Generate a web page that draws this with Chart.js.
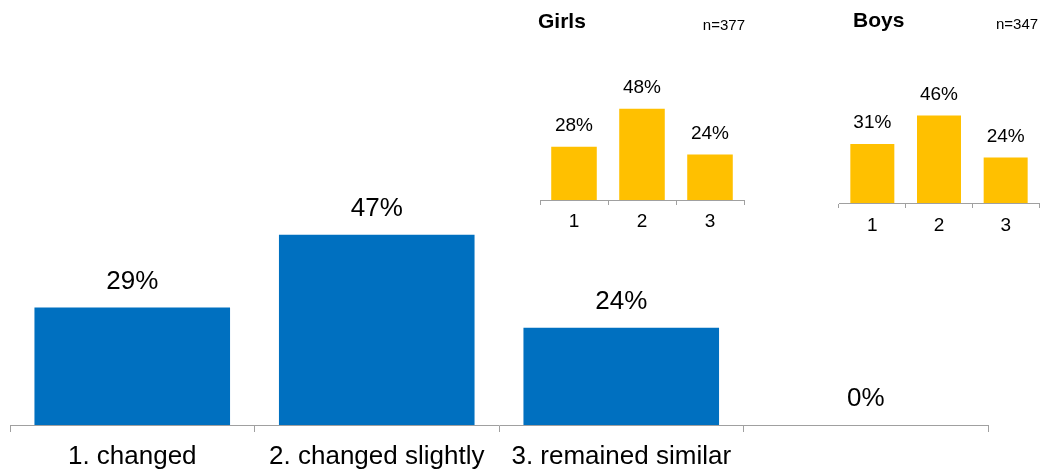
<!DOCTYPE html>
<html>
<head>
<meta charset="utf-8">
<script src="https://cdn.jsdelivr.net/npm/chart.js@4/dist/chart.umd.min.js"></script>
<style>
  html, body { margin: 0; padding: 0; background: #fff; }
  #wrap { position: relative; width: 1041px; height: 471px; overflow: hidden; }
  canvas { position: absolute; }
</style>
</head>
<body>
<div id="wrap">
  <canvas id="main" width="1041" height="471" style="left:0;top:0"></canvas>
  <canvas id="girls" width="240" height="250" style="left:520px;top:0"></canvas>
  <canvas id="boys" width="221" height="250" style="left:820px;top:0"></canvas>
</div>
<script>
// Overall answers
const mainCategories = ['1. changed', '2. changed slightly', '3. remained similar', ''];
const mainValues = [29, 47, 24, 0];

// Split by gender
const genderCategories = ['1', '2', '3'];
const girlsValues = [28, 48, 24];
const boysValues = [31, 46, 24];
const girlsTitle = 'Girls';
const boysTitle = 'Boys';
const girlsN = 'n=377';
const boysN = 'n=347';

const FONT = '"Liberation Sans", Arial, Helvetica, sans-serif';
const AXIS_GREY = '#a0a0a0';

// Writes "NN%" above each bar
const valueLabels = {
  id: 'valueLabels',
  afterDatasetsDraw(chart, args, opts) {
    const ctx = chart.ctx;
    const meta = chart.getDatasetMeta(0);
    const values = chart.data.datasets[0].data;
    ctx.save();
    ctx.font = opts.size + 'px ' + FONT;
    ctx.fillStyle = '#000';
    ctx.textAlign = 'center';
    ctx.textBaseline = 'middle';
    meta.data.forEach((bar, i) => {
      ctx.fillText(values[i] + '%', bar.x, bar.y - opts.offset);
    });
    ctx.restore();
  }
};

// Bold heading on the left, sample size on the right
const panelHeading = {
  id: 'panelHeading',
  afterDraw(chart, args, opts) {
    if (!opts.title) return;
    const ctx = chart.ctx;
    ctx.save();
    ctx.fillStyle = '#000';
    ctx.textBaseline = 'middle';
    ctx.textAlign = 'left';
    ctx.font = 'bold 21px ' + FONT;
    ctx.fillText(opts.title, opts.titleX, opts.titleY);
    ctx.font = '15px ' + FONT;
    ctx.textAlign = opts.nAlign;
    ctx.fillText(opts.n, opts.nX, opts.nY);
    ctx.restore();
  }
};

function barChart(id, labels, values, cfg) {
  return new Chart(document.getElementById(id), {
    type: 'bar',
    data: {
      labels: labels,
      datasets: [{
        data: values,
        backgroundColor: cfg.color,
        borderWidth: 0,
        barPercentage: cfg.barPct,
        categoryPercentage: 1
      }]
    },
    options: {
      responsive: false,
      animation: false,
      devicePixelRatio: 1,
      layout: { padding: cfg.padding },
      plugins: {
        legend: { display: false },
        tooltip: { enabled: false },
        title: { display: false },
        valueLabels: { size: cfg.labelSize, offset: cfg.labelOffset },
        panelHeading: cfg.heading || {}
      },
      scales: {
        x: {
          afterFit: s => { s.height = cfg.axisHeight; },
          border: { display: true, color: AXIS_GREY, width: 1 },
          grid: {
            display: true,
            offset: true,
            drawOnChartArea: false,
            drawTicks: true,
            tickLength: cfg.tickLength,
            color: AXIS_GREY,
            lineWidth: 1
          },
          ticks: {
            color: '#000',
            padding: cfg.tickPadding,
            maxRotation: 0,
            autoSkip: false,
            font: { family: FONT, size: cfg.labelSize }
          }
        },
        y: {
          display: false,
          min: 0,
          max: 100
        }
      }
    },
    plugins: [valueLabels, panelHeading]
  });
}

barChart('main', mainCategories, mainValues, {
  color: '#0070C0',
  barPct: 0.8,
  padding: { left: 10, right: 53, top: 20, bottom: 0 },
  axisHeight: 46,
  tickLength: 7,
  tickPadding: 9,
  labelSize: 26,
  labelOffset: 26
});

barChart('girls', genderCategories, girlsValues, {
  color: '#FFC000',
  barPct: 0.67,
  padding: { left: 20, right: 16, top: 10, bottom: 0 },
  axisHeight: 50,
  tickLength: 5,
  tickPadding: 5,
  labelSize: 19,
  labelOffset: 21,
  heading: { title: girlsTitle, titleX: 18, titleY: 22, n: girlsN, nAlign: 'right', nX: 225, nY: 26 }
});

barChart('boys', genderCategories, boysValues, {
  color: '#FFC000',
  barPct: 0.66,
  padding: { left: 19, right: 2, top: 13, bottom: 0 },
  axisHeight: 47,
  tickLength: 5,
  tickPadding: 6,
  labelSize: 19,
  labelOffset: 21,
  heading: { title: boysTitle, titleX: 33, titleY: 21, n: boysN, nAlign: 'left', nX: 176, nY: 25 }
});
</script>
</body>
</html>
